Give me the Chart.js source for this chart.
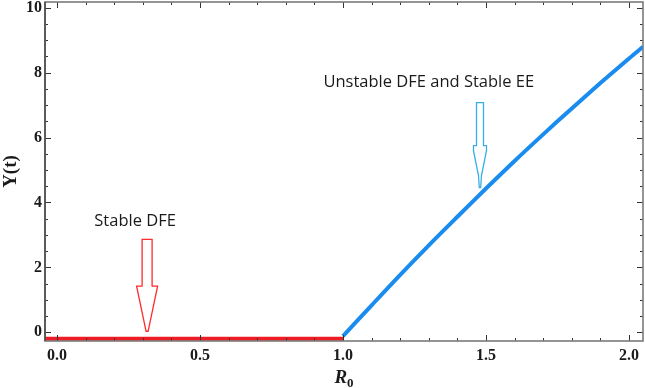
<!DOCTYPE html>
<html>
<head>
<meta charset="utf-8">
<script src="https://cdn.jsdelivr.net/npm/chart.js@4"></script>
<style>
html,body{margin:0;padding:0;background:#fff;}
#wrap{width:645px;height:388px;position:relative;}
</style>
</head>
<body>
<div id="wrap"><canvas id="c"></canvas></div>
<script>
// ---- data ----
const stableR0 = [-0.042, 1.0];
const stableY  = [-0.2, -0.2];
const eeR0 = [1.0, 1.1, 1.2, 1.3, 1.4, 1.5, 1.6, 1.7, 1.8, 1.9, 2.0, 2.049];
const eeY  = [-0.12, 0.83, 1.77, 2.68, 3.56, 4.43, 5.28, 6.10, 6.90, 7.68, 8.44, 8.8];
const xTickLabels = ['0.0', '0.5', '1.0', '1.5', '2.0'];
const yTickLabels = ['0', '2', '4', '6', '8', '10'];
// annotations (data coordinates)
const labelStable = {text: 'Stable DFE', x: 0.273, y: 3.42};
const labelEE = {text: 'Unstable DFE and Stable EE', x: 1.30, y: 7.70};
const arrowStable = {x: 0.315, top: 2.86, head: 1.42, tip: 0.03};
const arrowEE = {x: 1.479, top: 7.08, head: 5.75, tip: 4.46};

const X_MIN = -0.042, X_MAX = 2.049, Y_MIN = -0.27, Y_MAX = 10.18;

const toPts = (xs, ys) => xs.map((x, i) => ({x: x, y: ys[i]}));

const framePlugin = {
  id: 'frame',
  afterDatasetsDraw(chart) {
    const {ctx, chartArea: a, scales: {x, y}} = chart;
    ctx.save();
    ctx.strokeStyle = '#333';
    ctx.lineWidth = 1;
    const tick = (px, len, vertical) => {
      ctx.beginPath();
      if (vertical) {
        ctx.moveTo(px, a.bottom); ctx.lineTo(px, a.bottom - len);
        ctx.moveTo(px, a.top); ctx.lineTo(px, a.top + len);
      } else {
        ctx.moveTo(a.left, px); ctx.lineTo(a.left + len, px);
        ctx.moveTo(a.right, px); ctx.lineTo(a.right - len, px);
      }
      ctx.stroke();
    };
    for (let i = 0; i <= 20; i++) {
      const v = i * 0.1;
      const px = Math.round(x.getPixelForValue(v)) + 0.5;
      tick(px, i % 5 === 0 ? 6 : 3, true);
    }
    for (let i = 0; i <= 20; i++) {
      const v = i * 0.5;
      const py = Math.round(y.getPixelForValue(v)) + 0.5;
      tick(py, i % 4 === 0 ? 6 : 3, false);
    }
    ctx.strokeStyle = '#7a7a7a';
    ctx.lineWidth = 1.6;
    ctx.strokeRect(a.left, a.top, a.right - a.left, a.bottom - a.top);
    // darker left axis line
    ctx.strokeStyle = '#444';
    ctx.lineWidth = 1.4;
    ctx.beginPath(); ctx.moveTo(a.left, a.top); ctx.lineTo(a.left, a.bottom); ctx.stroke();
    ctx.restore();
  },
  afterDraw(chart) {
    const {ctx, scales: {x, y}} = chart;
    ctx.save();
    ctx.fillStyle = '#1a1a1a';
    ctx.font = '16.5px "Open Sans"';
    ctx.textAlign = 'center';
    ctx.textBaseline = 'middle';
    ctx.fillText(labelStable.text, x.getPixelForValue(labelStable.x), y.getPixelForValue(labelStable.y));
    ctx.fillText(labelEE.text, x.getPixelForValue(labelEE.x), y.getPixelForValue(labelEE.y));

    let cx = x.getPixelForValue(arrowStable.x);
    let t = y.getPixelForValue(arrowStable.top), h = y.getPixelForValue(arrowStable.head), p = y.getPixelForValue(arrowStable.tip);
    ctx.strokeStyle = '#ff2a2a';
    ctx.lineWidth = 1.3;
    ctx.beginPath();
    ctx.moveTo(cx - 5, t); ctx.lineTo(cx + 5, t); ctx.lineTo(cx + 5, h);
    ctx.lineTo(cx + 10.5, h); ctx.lineTo(cx + 1, p); ctx.lineTo(cx - 1, p);
    ctx.lineTo(cx - 10.5, h); ctx.lineTo(cx - 5, h); ctx.closePath();
    ctx.stroke();

    cx = x.getPixelForValue(arrowEE.x);
    t = y.getPixelForValue(arrowEE.top); h = y.getPixelForValue(arrowEE.head); p = y.getPixelForValue(arrowEE.tip);
    ctx.strokeStyle = '#38aee8';
    ctx.lineWidth = 1.3;
    ctx.beginPath();
    ctx.moveTo(cx - 3.5, t); ctx.lineTo(cx + 3.5, t); ctx.lineTo(cx + 3.5, h);
    ctx.lineTo(cx + 6.5, h); ctx.lineTo(cx + 6.5, h + 5); ctx.lineTo(cx + 1.5, p - 12);
    ctx.lineTo(cx + 0.7, p); ctx.lineTo(cx - 0.7, p); ctx.lineTo(cx - 1.5, p - 12);
    ctx.lineTo(cx - 6.5, h + 5); ctx.lineTo(cx - 6.5, h); ctx.lineTo(cx - 3.5, h); ctx.closePath();
    ctx.stroke();

    const a = chart.chartArea;
    const mx = (a.left + a.right) / 2;
    ctx.textAlign = 'left';
    ctx.textBaseline = 'alphabetic';
    ctx.fillStyle = '#1a1a1a';
    ctx.font = 'italic bold 19px "Liberation Serif"';
    const rw = ctx.measureText('R').width;
    ctx.font = 'bold 13px "Liberation Serif"';
    const zw = ctx.measureText('0').width;
    const sx = mx - (rw + zw) / 2;
    ctx.font = 'italic bold 19px "Liberation Serif"';
    ctx.fillText('R', sx, 383);
    ctx.font = 'bold 13px "Liberation Serif"';
    ctx.fillText('0', sx + rw, 387);
    ctx.restore();
  }
};

new Chart(document.getElementById('c'), {
  type: 'scatter',
  data: {
    datasets: [
      {label: 'Stable DFE', data: toPts(stableR0, stableY), showLine: true, borderColor: '#ee1c24', borderWidth: 4, pointRadius: 0, fill: false},
      {label: 'Stable EE', data: toPts(eeR0, eeY), showLine: true, borderColor: '#1a8cf0', borderWidth: 4, pointRadius: 0, fill: false, tension: 0.3}
    ]
  },
  options: {
    responsive: true,
    maintainAspectRatio: false,
    animation: false,
    layout: {padding: {top: 2, right: 2, left: 0, bottom: 0}},
    plugins: {legend: {display: false}, tooltip: {enabled: false}},
    scales: {
      x: {
        type: 'linear', min: X_MIN, max: X_MAX,
        grid: {display: false, drawTicks: false},
        border: {display: false},
        afterFit(s) { s.height = 47; s.paddingLeft = 0; s.paddingRight = 0; },
        afterBuildTicks(s) { s.ticks = xTickLabels.map(l => ({value: parseFloat(l)})); },
        ticks: {
          padding: 5, color: '#1a1a1a', maxRotation: 0,
          font: {family: '"Liberation Serif"', size: 16, weight: 'bold'},
          callback: (v) => xTickLabels.find(l => Math.abs(parseFloat(l) - v) < 1e-9) || ''
        }
      },
      y: {
        type: 'linear', min: Y_MIN, max: Y_MAX,
        grid: {display: false, drawTicks: false},
        border: {display: false},
        afterFit(s) { s.width = 45; s.paddingTop = 0; s.paddingBottom = 0; },
        afterBuildTicks(s) { s.ticks = yTickLabels.map(l => ({value: parseFloat(l)})); },
        title: {display: true, text: 'Y(t)', color: '#1a1a1a', padding: {top: 0, bottom: 0},
          font: {family: '"Liberation Serif"', size: 19, weight: 'bold'}},
        ticks: {
          padding: 3, color: '#1a1a1a',
          font: {family: '"Liberation Serif"', size: 16, weight: 'bold'},
          callback: (v) => yTickLabels.find(l => Math.abs(parseFloat(l) - v) < 1e-9) || ''
        }
      }
    }
  },
  plugins: [framePlugin]
});
</script>
</body>
</html>
